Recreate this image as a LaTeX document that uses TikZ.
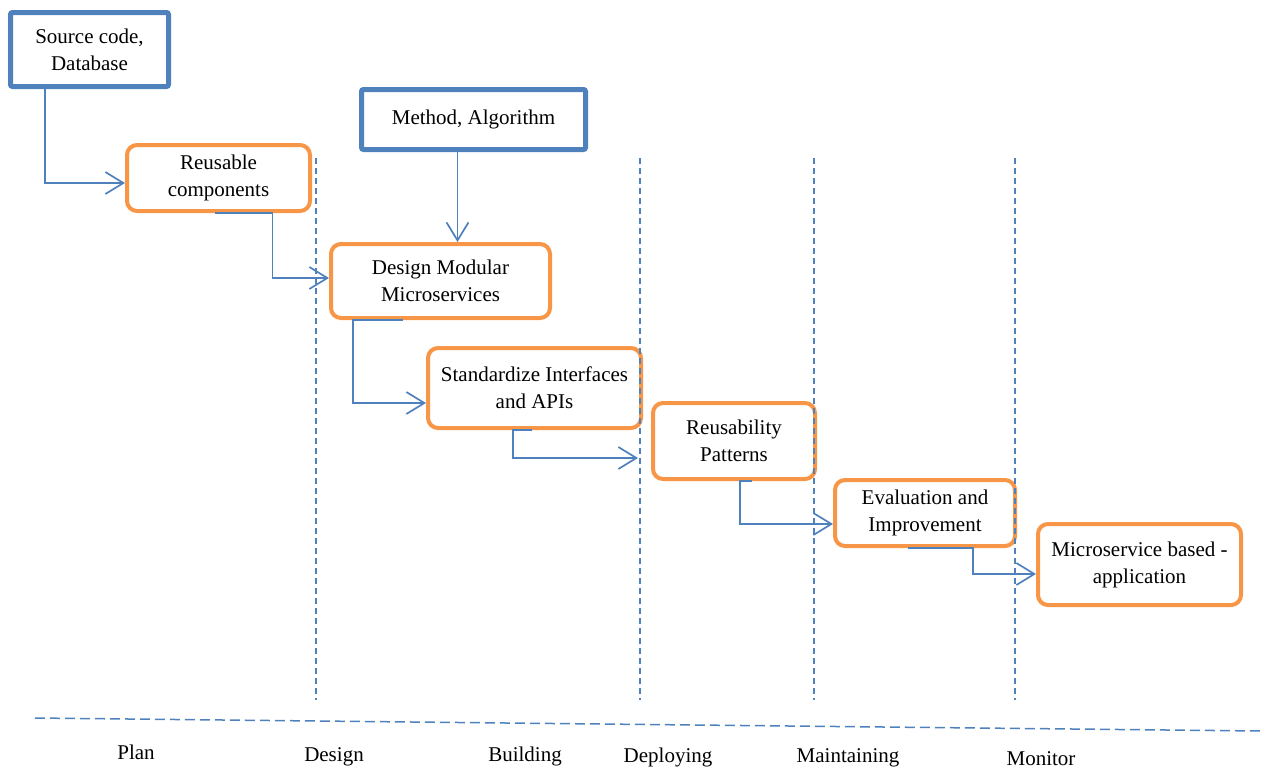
\documentclass[tikz,border=0pt]{standalone}
\usepackage{fontspec}
\setmainfont{Liberation Serif}
\usetikzlibrary{arrows.meta}
\definecolor{lnblue}{HTML}{4F81BD}
\definecolor{bxorange}{HTML}{F79646}

\begin{document}
\begin{tikzpicture}[
    x=0.5pt, y=-0.5pt,
    inbox/.style={draw=lnblue, line width=2.5pt, rounded corners=1pt, align=center, inner sep=0pt, font=\fontsize{10.5}{13.5}\selectfont},
    stage/.style={draw=bxorange, line width=2pt, rounded corners=5pt, align=center, inner sep=0pt, font=\fontsize{10.5}{13.5}\selectfont},
    link/.style={-{Straight Barb[length=9pt,width=11pt]}, draw=lnblue, line width=0.85pt},
    guide/.style={draw=lnblue, line width=0.75pt, dash pattern=on 3pt off 2pt},
    phase/.style={anchor=base, font=\fontsize{10.5}{13.5}\selectfont},
]
\useasboundingbox (0,0) rectangle (1262,767);

% inputs
\node[inbox, minimum width=79pt, minimum height=37pt] (src) at (89.5,49.5) {Source code,\\Database};
\node[inbox, minimum width=112pt, minimum height=30pt] (meth) at (473.5,119.5) {Method, Algorithm};

% process steps
\node[stage, minimum width=91.5pt, minimum height=33pt] (reuse) at (218.5,178) {Reusable\\components};
\node[stage, minimum width=109.5pt, minimum height=37pt] (design) at (440.5,281) {Design Modular\\Microservices};
\node[stage, minimum width=106.5pt, minimum height=40pt] (std) at (534.5,388) {Standardize Interfaces\\and APIs};
\node[stage, minimum width=81pt, minimum height=38pt] (pat) at (734,441) {Reusability\\Patterns};
\node[stage, minimum width=90pt, minimum height=33pt] (eval) at (925,513) {Evaluation and\\Improvement};
\node[stage, minimum width=101.5pt, minimum height=40.5pt] (app) at (1139.5,564.5) {Microservice based -\\application};

% phase separators
\foreach \x in {316,640,814,1015}
    \draw[guide] (\x,158) -- (\x,700);
\coordinate (tlstart) at (35,718);
\coordinate (tlend) at (1262,731);
\draw[guide, dash pattern=on 5pt off 2.5pt] (tlstart) -- (tlend);

% connectors
\draw[link] ([xshift=-22.25pt]src.south) |- ([yshift=-2.5pt]reuse.west);
\coordinate (mtap) at ([xshift=-8pt]meth.south);
\draw[link] (mtap) -- (mtap |- design.north);
\draw[link] ([xshift=-1.75pt]reuse.south) -- ([xshift=27pt]reuse.south) |- ([yshift=1.5pt]design.west);
\draw[link] ([xshift=-18.75pt]design.south) -- ([xshift=-43.75pt]design.south) |- ([yshift=-7.5pt]std.west);
\draw[link] ([xshift=-1.25pt]std.south) -- ([xshift=-10.75pt]std.south) |- ([shift={(-6.5pt,-8.5pt)}]pat.west);
\draw[link] ([xshift=9pt]pat.south) -- ([xshift=3pt]pat.south) |- ([yshift=-5.5pt]eval.west);
\draw[link] ([xshift=-8.5pt]eval.south) -- ([xshift=24pt]eval.south) |- ([yshift=-4.75pt]app.west);

% phases
\node[phase] (plan) at (136,759) {Plan};
\node[phase] (phdesign) at (334,761) {Design};
\node[phase] (build) at (525,761) {Building};
\node[phase] (deploy) at (668,762) {Deploying};
\node[phase] (maint) at (848,762) {Maintaining};
\node[phase] (monitor) at (1041,765) {Monitor};
\end{tikzpicture}
\end{document}
